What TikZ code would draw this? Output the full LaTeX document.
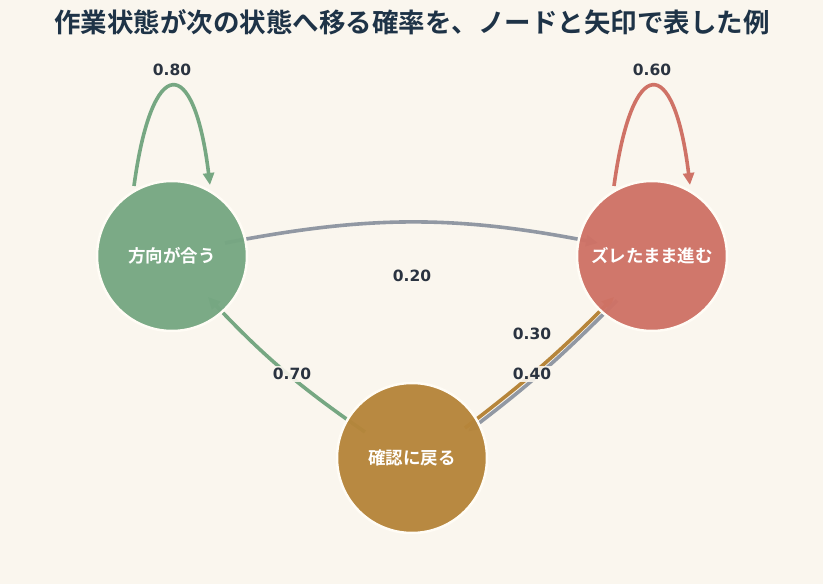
\documentclass[tikz,border=0pt]{standalone}
\usepackage{fontspec}
\setmainfont{DejaVu Sans}
\newfontfamily\cjkfont{Noto Sans CJK JP}[BoldFont={Noto Sans CJK JP Bold}]
\newfontfamily\numfont{DejaVu Sans}
\usetikzlibrary{arrows.meta}
\definecolor{bgc}{HTML}{FAF6EE}
\definecolor{gnode}{HTML}{76A782}
\definecolor{rnode}{HTML}{CF7266}
\definecolor{onode}{HTML}{B6853A}
\definecolor{gedge}{HTML}{9198A3}
\definecolor{titlec}{HTML}{1E3347}
\definecolor{labc}{HTML}{2A3340}
\definecolor{ringc}{HTML}{FFFCF5}
\pgfdeclarelayer{bglayer}
\pgfdeclarelayer{edgelayer}
\pgfsetlayers{bglayer,edgelayer,main}
\tikzset{
  statenode/.style={circle, minimum size=150pt, inner sep=0pt, draw=ringc, line width=2.5pt,
    fill opacity=0.96, text opacity=1, text=white, font=\cjkfont\bfseries\fontsize{17.5}{19}\selectfont},
  trans/.style={line width=3.6pt, -{Triangle[length=12pt,width=11pt]}},
  problabel/.style={font=\numfont\bfseries\fontsize{15.5}{17}\selectfont, text=labc, inner sep=2pt},
  problabelbox/.style={problabel, fill=bgc, fill opacity=0.9, text opacity=1}
}
\begin{document}
\begin{tikzpicture}[x=1pt,y=1pt]
\useasboundingbox (0,0) rectangle (823,584);
\begin{pgfonlayer}{bglayer}
\fill[bgc] (0,0) rectangle (823,584);
\end{pgfonlayer}
\node[font=\cjkfont\bfseries\fontsize{26.5}{29}\selectfont, text=titlec] (title) at (412,562) {作業状態が次の状態へ移る確率を、ノードと矢印で表した例};
\node[statenode, fill=gnode] (g) at (172,328) {方向が合う};
\node[statenode, fill=rnode] (r) at (652,328) {ズレたまま進む};
\node[statenode, fill=onode] (o) at (412,126) {確認に戻る};
\begin{pgfonlayer}{edgelayer}
% self loops
\draw[trans, draw=gnode] ([shift={(-38,70)}]g.center) .. controls ([shift={(-20,203)}]g.center) and ([shift={(22,203)}]g.center) .. ([shift={(38,71)}]g.center);
\draw[trans, draw=rnode] ([shift={(-38,70)}]r.center) .. controls ([shift={(-20,203)}]r.center) and ([shift={(22,203)}]r.center) .. ([shift={(38,71)}]r.center);
% g -> r
\draw[trans, draw=gedge] ([shift={(53,13)}]g.center) to[bend left=11] ([shift={(-54,13)}]r.center);
% o -> g
\draw[trans, draw=gnode] ([shift={(-47,26)}]o.center) to[bend left=6] ([shift={(36,-41)}]g.center);
% o -> r
\draw[trans, draw=onode] ([shift={(53,30)}]o.center) to[bend right=4] ([shift={(-38,-41)}]r.center);
% r -> o
\draw[trans, draw=gedge] ([shift={(-35,-44.5)}]r.center) to[bend left=4] ([shift={(56,26.5)}]o.center);
\end{pgfonlayer}
\node[problabel] (l80) at (172,514) {0.80};
\node[problabel] (l60) at (652,514) {0.60};
\node[problabel] (l20) at (412,308) {0.20};
\node[problabelbox] (l70) at (292,210) {0.70};
\node[problabel] (l30) at (532,250) {0.30};
\node[problabelbox] (l40) at (532,210) {0.40};
\end{tikzpicture}
\end{document}
